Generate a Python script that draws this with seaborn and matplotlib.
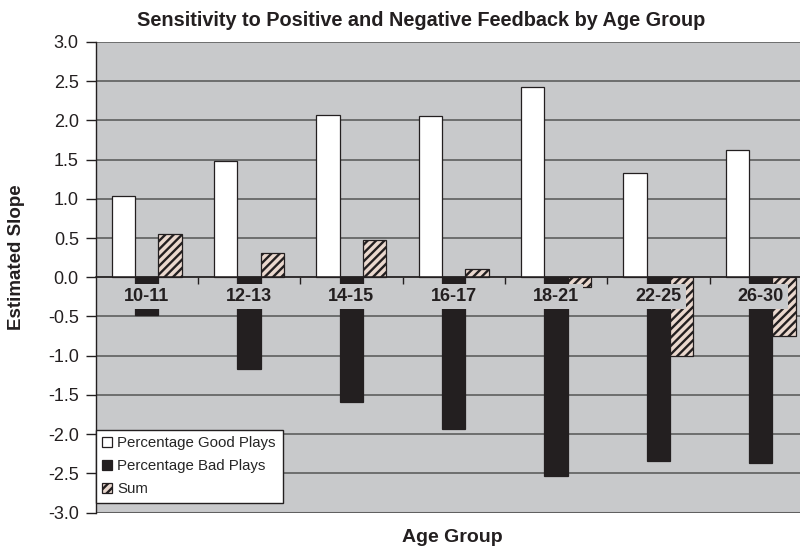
import matplotlib
matplotlib.use("Agg")
import matplotlib.pyplot as plt
import seaborn as sns
import pandas as pd

# Estimated slopes per age group
age_groups = ["10-11", "12-13", "14-15", "16-17", "18-21", "22-25", "26-30"]
good_plays = [1.03, 1.48, 2.07, 2.05, 2.42, 1.33, 1.62]
bad_plays = [-0.48, -1.17, -1.59, -1.94, -2.53, -2.34, -2.37]
sum_values = [0.55, 0.31, 0.48, 0.10, -0.13, -1.01, -0.75]
series_names = ["Percentage Good Plays", "Percentage Bad Plays", "Sum"]
y_ticks = [-3.0, -2.5, -2.0, -1.5, -1.0, -0.5, 0.0, 0.5, 1.0, 1.5, 2.0, 2.5, 3.0]

df = pd.DataFrame({
    "age": age_groups * 3,
    "slope": good_plays + bad_plays + sum_values,
    "series": [series_names[0]] * 7 + [series_names[1]] * 7 + [series_names[2]] * 7,
})

sns.set_style("white")
plt.rcParams["font.family"] = ["Liberation Sans", "DejaVu Sans"]
plt.rcParams["hatch.linewidth"] = 1.7

bg = "#C8C9CB"
dark = "#231F20"

fig = plt.figure(figsize=(8, 5.5), dpi=100)
ax = fig.add_axes([95.5 / 800, 1 - 512.5 / 550, (812 - 95.5) / 800, (512.5 - 42) / 550])
ax.set_facecolor(bg)

sns.barplot(
    data=df, x="age", y="slope", hue="series",
    palette=["white", dark, "#EAD8CE"],
    width=0.684, gap=0, errorbar=None, legend=False,
    edgecolor=dark, linewidth=0.9, saturation=1, ax=ax,
)

# hatched Sum bars
for patch in ax.containers[2]:
    patch.set_hatch("////")
    patch.set_edgecolor(dark)

ax.set_ylim(-3.0, 3.0)
ax.set_xlim(-0.5, len(age_groups) - 0.5)
ax.set_yticks(y_ticks)
ax.set_yticklabels([f"{v:.1f}" for v in y_ticks], fontsize=13, color=dark)
ax.yaxis.grid(True, color="#555555", linewidth=1.1)
ax.set_axisbelow(True)

# category axis runs along zero, with ticks between groups
ax.spines["bottom"].set_position(("data", 0))
ax.spines["bottom"].set_color(dark)
ax.spines["bottom"].set_linewidth(1.1)
ax.set_xticks([i + 0.5 for i in range(len(age_groups) - 1)])
ax.set_xticklabels([])
ax.tick_params(axis="x", direction="out", length=5, width=1, color=dark, bottom=True)
ax.tick_params(axis="y", direction="out", length=7, width=1, color=dark, left=True, pad=5)

for s in ["top", "right"]:
    ax.spines[s].set_visible(False)
ax.spines["left"].set_color(dark)
ax.spines["left"].set_linewidth(1.0)
ax.axhline(-3.0, color="#888888", linewidth=1.5, zorder=0.5)

for i, lab in enumerate(age_groups):
    ax.text(i, -0.245, lab, ha="center", va="center", fontsize=13, fontweight="bold",
            color=dark, zorder=5,
            bbox=dict(facecolor=bg, edgecolor="none", pad=3.0))

ax.set_xlabel("")
ax.set_ylabel("")
fig.text(421 / 800, 1 - 20 / 550, "Sensitivity to Positive and Negative Feedback by Age Group",
         ha="center", va="center", fontsize=14.3, fontweight="bold", color=dark)
fig.text(452 / 800, 1 - 537 / 550, "Age Group", ha="center", va="center",
         fontsize=14, fontweight="bold", color=dark)
fig.text(17 / 800, 1 - 257 / 550, "Estimated Slope", ha="center", va="center", rotation=90,
         fontsize=13.5, fontweight="bold", color=dark)

leg = ax.legend(
    handles=list(ax.containers), labels=series_names,
    loc="lower left", bbox_to_anchor=(0.0, (512.5 - 503) / 470.5),
    borderaxespad=0, fontsize=10.8, frameon=True, fancybox=False,
    handlelength=0.65, handleheight=0.65, handletextpad=0.35,
    labelspacing=0.6, borderpad=0.45,
)
leg.get_frame().set_edgecolor(dark)
leg.get_frame().set_linewidth(1.0)
leg.get_frame().set_facecolor("white")
leg.get_frame().set_alpha(1)

fig.savefig("out.png", dpi=100, facecolor="white")
